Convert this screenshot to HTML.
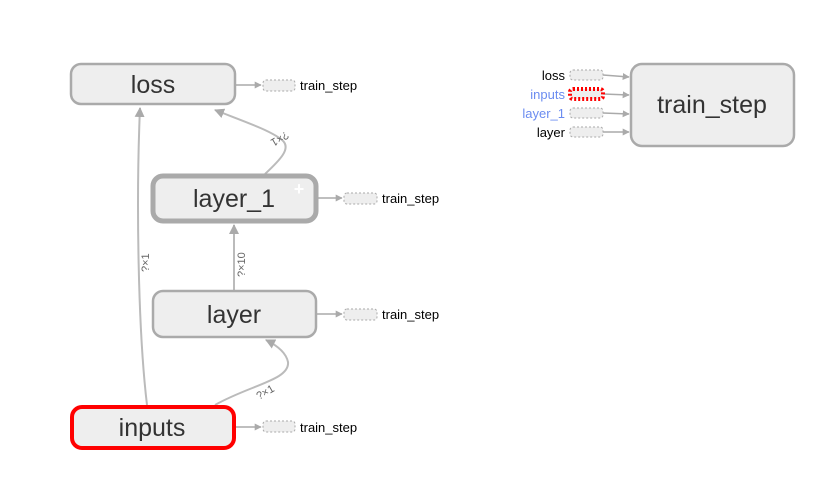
<!DOCTYPE html>
<html><head><meta charset="utf-8"><style>
body{margin:0;background:#fff;}
svg{display:block;font-family:"Liberation Sans",Roboto,sans-serif;}
</style></head><body>
<svg width="820" height="484" viewBox="0 0 820 484" xmlns="http://www.w3.org/2000/svg">
<defs>
<marker id="a" viewBox="0 0 10 10" refX="9" refY="5" markerWidth="7" markerHeight="7" markerUnits="userSpaceOnUse" orient="auto"><path d="M0,0L10,5L0,10z" fill="#aaa"/></marker>
<marker id="b" viewBox="0 0 10 10" refX="9" refY="5" markerWidth="10" markerHeight="10" markerUnits="userSpaceOnUse" orient="auto"><path d="M0,0L10,5L0,10z" fill="#aaa"/></marker>
</defs>
<g fill="none" stroke="#bbb" stroke-width="2">
<path d="M147,405 C138,330 136,200 140,108" marker-end="url(#b)"/>
<path d="M234,290 L234,225" marker-end="url(#b)"/>
<path d="M215,405 C250,385 290,380 288,362 C286,352 276,345 266,340" marker-end="url(#b)"/>
<path d="M265,174 C280,160 292,148 282,140 C270,130 240,120 215,110" marker-end="url(#b)"/>
</g>
<g font-size="11" fill="#666">
<text transform="translate(149,272) rotate(-90)">?×1</text>
<text transform="translate(245,277) rotate(-90)">?×10</text>
<text transform="translate(259,400) rotate(-30)">?×1</text>
<text transform="translate(286,131) rotate(150)">?×1</text>
</g>
<g stroke="#aaa" fill="#eee">
<rect x="71" y="64" width="164" height="40" rx="10" stroke-width="2.5"/>
<rect x="153" y="176" width="163" height="45" rx="10" stroke-width="5"/>
<rect x="153" y="291" width="163" height="46" rx="10" stroke-width="2.5"/>
<rect x="631" y="64" width="163" height="82" rx="11" stroke-width="2.5"/>
</g>
<rect x="72" y="407" width="162" height="41" rx="10" fill="#eee" stroke="#f00" stroke-width="4"/>
<text x="299" y="195" fill="#fff" font-size="18" font-weight="bold" text-anchor="middle">+</text>
<g font-size="25" fill="#333" text-anchor="middle">
<text x="153" y="93">loss</text>
<text x="234" y="207">layer_1</text>
<text x="234" y="323">layer</text>
<text x="152" y="436">inputs</text>
<text x="712" y="113">train_step</text>
</g>
<g stroke="#aaa" stroke-width="1.5" fill="none">
<path d="M236,85 L261,85" marker-end="url(#a)"/>
<path d="M318,198 L342,198" marker-end="url(#a)"/>
<path d="M317,314 L342,314" marker-end="url(#a)"/>
<path d="M236,427 L261,427" marker-end="url(#a)"/>
<path d="M603,75 L629,77" marker-end="url(#a)"/>
<path d="M603,94 L629,95" marker-end="url(#a)"/>
<path d="M603,113 L629,114" marker-end="url(#a)"/>
<path d="M603,132 L629,132" marker-end="url(#a)"/>
</g>
<g fill="#eee" stroke="#aaa" stroke-dasharray="2,2" stroke-width="1">
<rect x="263" y="80" width="32" height="11" rx="3"/>
<rect x="344" y="193" width="33" height="11" rx="3"/>
<rect x="344" y="309" width="33" height="11" rx="3"/>
<rect x="263" y="421" width="32" height="11" rx="3"/>
<rect x="570" y="70" width="33" height="10" rx="3"/>
<rect x="570" y="108" width="33" height="10" rx="3"/>
<rect x="570" y="127" width="33" height="10" rx="3"/>
</g>
<rect x="570" y="89" width="33" height="10" rx="3" fill="#eee" stroke="#f00" stroke-width="4" stroke-dasharray="2,2"/>
<g font-size="13" fill="#000">
<text x="300" y="90">train_step</text>
<text x="382" y="203">train_step</text>
<text x="382" y="319">train_step</text>
<text x="300" y="432">train_step</text>
</g>
<g font-size="13" text-anchor="end">
<text x="565" y="80" fill="#000">loss</text>
<text x="565" y="99" fill="#6b8cf0">inputs</text>
<text x="565" y="118" fill="#6b8cf0">layer_1</text>
<text x="565" y="137" fill="#000">layer</text>
</g>
</svg>
</body></html>
